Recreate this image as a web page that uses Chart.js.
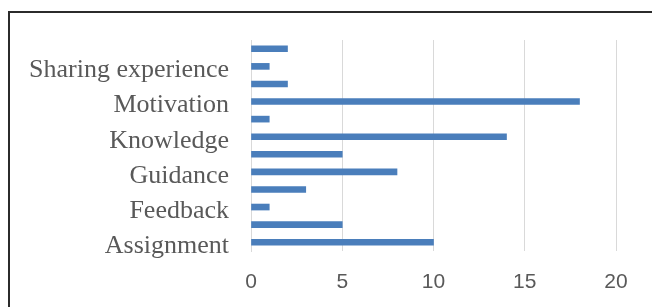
<!DOCTYPE html>
<html>
<head>
<meta charset="utf-8">
<script src="https://cdn.jsdelivr.net/npm/chart.js@4/dist/chart.umd.min.js"></script>
<style>
    html, body { margin: 0; padding: 0; background: #fff; }
    #wrap { position: relative; width: 652px; height: 307px; overflow: hidden; }
    #frame {
        position: absolute; left: 8px; top: 11px; width: 700px; height: 400px;
        border-left: 2px solid #2b2b2b; border-top: 2px solid #2b2b2b;
    }
    #chart { position: absolute; left: 0; top: 0; }
</style>
</head>
<body>
<div id="wrap">
    <div id="frame"></div>
    <canvas id="chart" width="652" height="307"></canvas>
</div>
<script>
// categories from bottom to top, as in the source chart (unlabelled rows left blank)
var categories = ["Assignment", "", "Feedback", "", "Guidance", "", "Knowledge", "", "Motivation", "", "Sharing experience", ""];
var counts = [10, 5, 1, 3, 8, 5, 14, 1, 18, 2, 1, 2];
var xTicks = [0, 5, 10, 15, 20];

var gridGrey = "#d9d9d9";
var textGrey = "#595959";

new Chart("chart", {
    type: "bar",
    data: {
        labels: categories,
        datasets: [{
            data: counts,
            backgroundColor: "#4a7ebb",
            borderWidth: 0,
            barThickness: 6
        }]
    },
    options: {
        indexAxis: "y",
        responsive: false,
        animation: false,
        devicePixelRatio: 1,
        layout: { padding: { top: 40, right: 36, left: 0, bottom: 0 } },
        plugins: {
            legend: { display: false },
            tooltip: { enabled: false }
        },
        scales: {
            x: {
                min: xTicks[0],
                max: xTicks[xTicks.length - 1],
                afterBuildTicks: function (scale) {
                    scale.ticks = xTicks.map(function (v) { return { value: v }; });
                },
                afterFit: function (scale) { scale.height = 56; },
                grid: { color: gridGrey, lineWidth: 1, drawTicks: false },
                border: { display: false },
                ticks: {
                    color: textGrey,
                    padding: 19,
                    font: { family: "Liberation Sans", size: 21 }
                }
            },
            y: {
                reverse: true,
                afterFit: function (scale) { scale.width = 251; },
                grid: { display: false, drawTicks: false },
                border: { display: true, color: gridGrey, width: 1 },
                ticks: {
                    autoSkip: false,
                    color: textGrey,
                    padding: 22,
                    labelOffset: 4,
                    font: { family: "Liberation Serif", size: 26 }
                }
            }
        }
    }
});
</script>
</body>
</html>
